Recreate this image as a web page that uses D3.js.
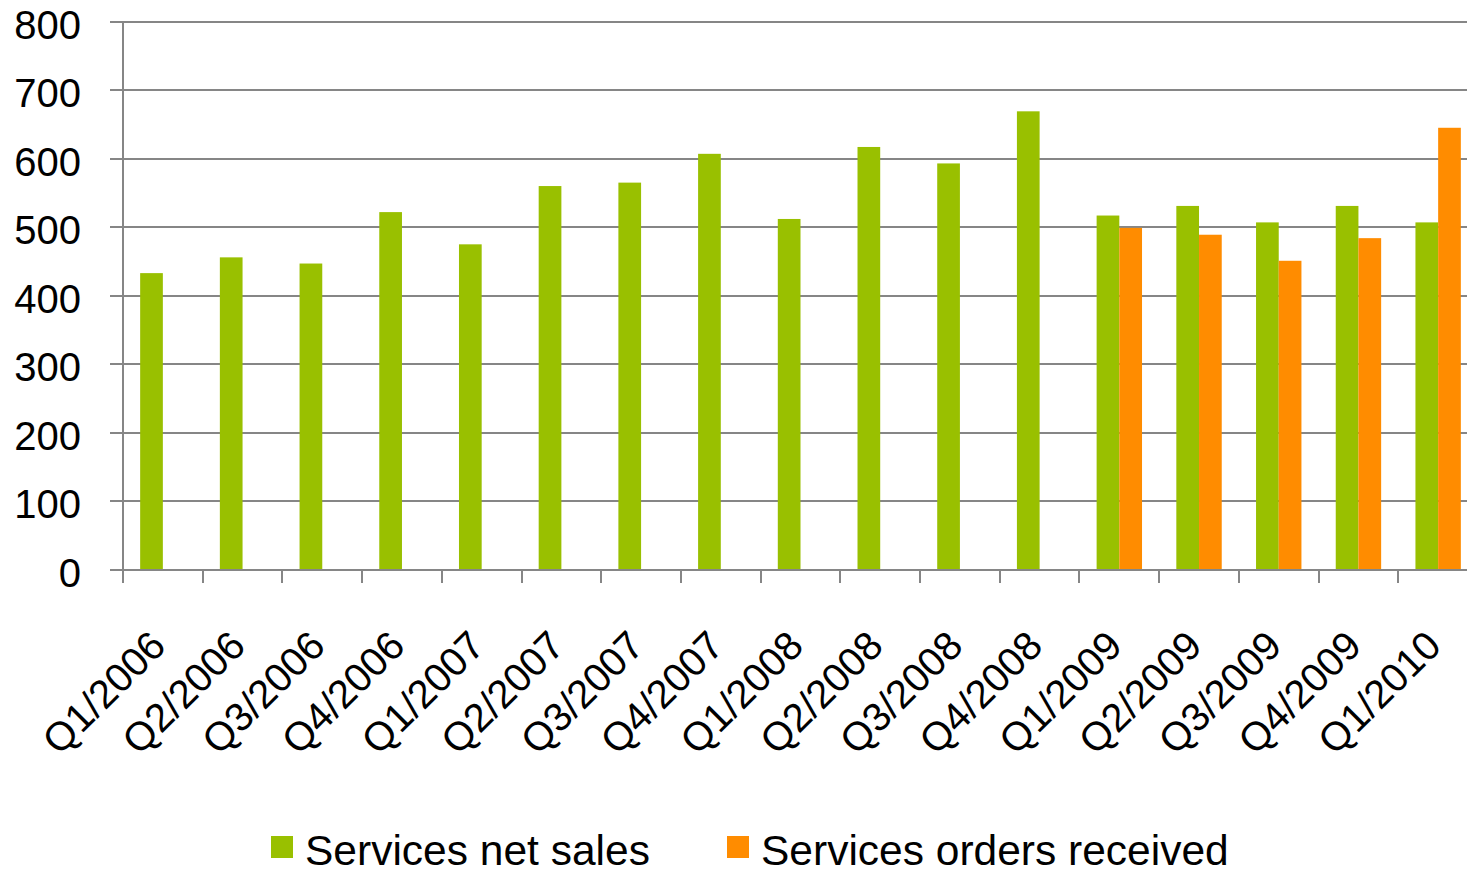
<!DOCTYPE html>
<html>
<head>
<meta charset="utf-8">
<script src="https://cdn.jsdelivr.net/npm/d3@7"></script>
<style>
  html, body { margin: 0; padding: 0; background: #fff; }
  svg { display: block; font-family: "Liberation Sans", Arial, sans-serif; }
</style>
</head>
<body>
<svg id="chart" width="1467" height="870"></svg>
<script>
const categories = ["Q1/2006","Q2/2006","Q3/2006","Q4/2006","Q1/2007","Q2/2007","Q3/2007","Q4/2007",
  "Q1/2008","Q2/2008","Q3/2008","Q4/2008","Q1/2009","Q2/2009","Q3/2009","Q4/2009","Q1/2010"];
const seriesNames = ["Services net sales", "Services orders received"];
const netSales = [433, 456, 447, 522, 475, 560, 565, 607, 512, 617, 593, 669, 517, 531, 507, 531, 507];
const ordersReceived = [null, null, null, null, null, null, null, null, null, null, null, null, 499, 489, 451, 484, 645];
const yTicks = [0, 100, 200, 300, 400, 500, 600, 700, 800];
const colors = ["#99C000", "#FF8C00"];

const svg = d3.select("#chart");
const gridColor = "#868686";

const x = d3.scaleBand().domain(categories).range([123, 1478]).paddingInner(0).paddingOuter(0);
const y = d3.scaleLinear().domain([0, 800]).range([570, 21.5]);
const groupFrac = 45.4 / 79.7;
const sub = d3.scaleBand().domain([0, 1])
  .range([(x.bandwidth() * (1 - groupFrac)) / 2, (x.bandwidth() * (1 + groupFrac)) / 2]);
const snap = v => Math.round(v);

// gridlines
svg.append("g").selectAll("line").data(yTicks).join("line")
  .attr("x1", 110).attr("x2", 1467)
  .attr("y1", d => snap(y(d))).attr("y2", d => snap(y(d)))
  .attr("stroke", gridColor).attr("stroke-width", 2);

// y axis line
svg.append("line").attr("x1", 123).attr("x2", 123).attr("y1", snap(y(800)) - 1).attr("y2", 583)
  .attr("stroke", gridColor).attr("stroke-width", 2);

// x ticks at band boundaries
const boundaries = categories.map(c => x(c)).concat([x(categories[categories.length - 1]) + x.bandwidth()]);
svg.append("g").selectAll("line").data(boundaries.slice(1)).join("line")
  .attr("x1", d => snap(d)).attr("x2", d => snap(d)).attr("y1", 570).attr("y2", 583)
  .attr("stroke", gridColor).attr("stroke-width", 2);

// y labels
svg.append("g").selectAll("text").data(yTicks).join("text")
  .attr("x", 81).attr("y", d => y(d) + 17)
  .attr("text-anchor", "end").attr("font-size", 40).attr("fill", "#000")
  .text(d => d);

// bars
const series = [netSales, ordersReceived];
series.forEach((vals, si) => {
  svg.append("g").selectAll("rect")
    .data(categories.map((c, i) => ({ c, v: vals[i] })).filter(d => d.v != null))
    .join("rect")
    .attr("x", d => x(d.c) + sub(si))
    .attr("width", sub.bandwidth())
    .attr("y", d => y(d.v))
    .attr("height", d => y(0) - y(d.v) - 1)
    .attr("fill", colors[si]);
});

// x labels
svg.append("g").selectAll("text").data(categories).join("text")
  .attr("transform", d => `translate(${x(d) + x.bandwidth() / 2 + 5},648) rotate(-45)`)
  .attr("text-anchor", "end").attr("font-size", 40).attr("fill", "#000")
  .text(d => d);

// legend
const legendItems = [{ name: seriesNames[0], color: colors[0], x: 271 }, { name: seriesNames[1], color: colors[1], x: 727 }];
const lg = svg.append("g").selectAll("g").data(legendItems).join("g");
lg.append("rect").attr("x", d => d.x).attr("y", 836).attr("width", 22).attr("height", 22).attr("fill", d => d.color);
lg.append("text").attr("x", d => d.x + 34).attr("y", 865).attr("font-size", 42.5).attr("fill", "#000").text(d => d.name);
</script>
</body>
</html>
